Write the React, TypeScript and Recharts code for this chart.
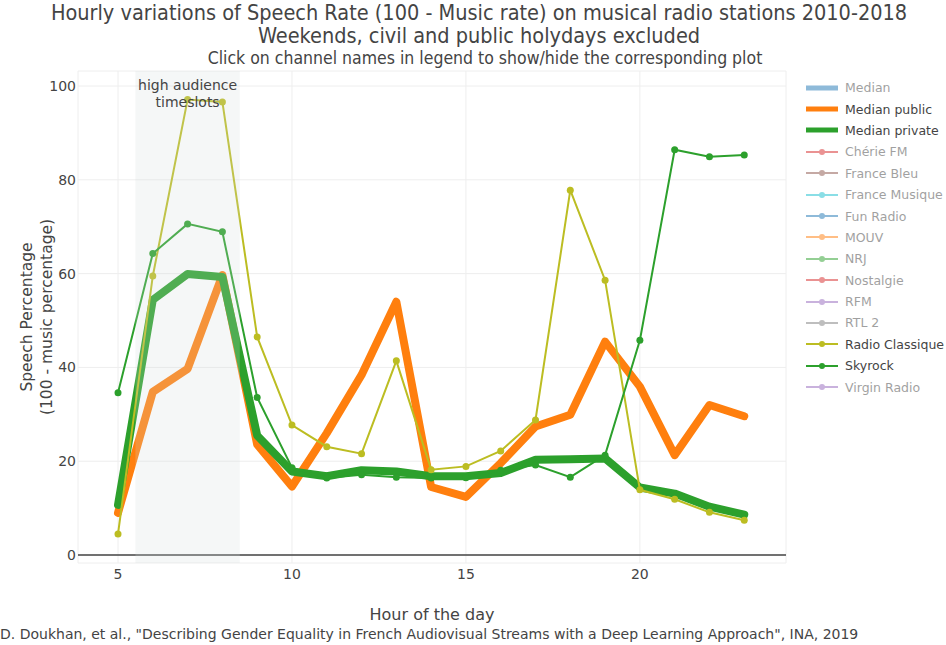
import React from 'react';
import {
  LineChart,
  Line,
  XAxis,
  YAxis,
  CartesianGrid,
  ReferenceArea,
  ReferenceLine,
  Label,
} from 'recharts';

// ── Data ──

const HOURS = [5, 6, 7, 8, 9, 10, 11, 12, 13, 14, 15, 16, 17, 18, 19, 20, 21, 22, 23];
const MEDIAN_PUBLIC = [9, 34.8, 39.7, 59.7, 23.6, 14.6, 26, 38.4, 54, 14.5, 12.4, 19.6, 27.4, 29.9, 45.5, 35.9, 21.3, 32, 29.6];
const MEDIAN_PRIVATE = [10.7, 54.4, 59.9, 59.3, 25.5, 17.8, 16.8, 18.1, 17.8, 16.8, 16.8, 17.5, 20.3, 20.4, 20.6, 14.4, 13.1, 10.3, 8.6];
const RADIO_CLASSIQUE = [4.5, 59.5, 97.1, 96.6, 46.5, 27.7, 23.1, 21.6, 41.4, 18.2, 18.9, 22.2, 28.8, 77.8, 58.6, 13.9, 11.9, 9.1, 7.4];
const SKYROCK = [34.6, 64.3, 70.6, 68.9, 33.6, 18.6, 16.4, 17.1, 16.6, 16.4, 16.5, 18.1, 19.2, 16.6, 21.3, 45.8, 86.4, 84.9, 85.3];

const X_TICKS = [5, 10, 15, 20];
const Y_TICKS = [0, 20, 40, 60, 80, 100];

// legend entries: name, colour, shown, thick median line or thin line with marker
const LEGEND_ITEMS: [string, string, boolean, boolean][] = [
  ['Median', '#1f77b4', false, true],
  ['Median public', '#ff7f0e', true, true],
  ['Median private', '#2ca02c', true, true],
  ['Chérie FM', '#d62728', false, false],
  ['France Bleu', '#8c564b', false, false],
  ['France Musique', '#17becf', false, false],
  ['Fun Radio', '#1f77b4', false, false],
  ['MOUV', '#ff7f0e', false, false],
  ['NRJ', '#2ca02c', false, false],
  ['Nostalgie', '#d62728', false, false],
  ['RFM', '#9467bd', false, false],
  ['RTL 2', '#7f7f7f', false, false],
  ['Radio Classique', '#bcbd22', true, false],
  ['Skyrock', '#2ca02c', true, false],
  ['Virgin Radio', '#9467bd', false, false],
];

const data = HOURS.map((hour, i) => ({
  hour,
  medianPublic: MEDIAN_PUBLIC[i],
  medianPrivate: MEDIAN_PRIVATE[i],
  radioClassique: RADIO_CLASSIQUE[i],
  skyrock: SKYROCK[i],
}));

const FONT = '"DejaVu Sans", Verdana, sans-serif';
const TITLE_FONT = '"DejaVu Sans Condensed", "DejaVu Sans", sans-serif';
const TEXT = '#444';

// ── Legend ──

function ChannelLegend() {
  return (
    <div style={{ position: 'absolute', left: 806, top: 77, fontFamily: FONT, fontSize: 12.5 }}>
      {LEGEND_ITEMS.map(([name, color, shown, thick]) => (
        <div key={name} style={{ display: 'flex', alignItems: 'center', height: 21.4, opacity: shown ? 1 : 0.5 }}>
          <svg width={39} height={12} style={{ flexShrink: 0 }}>
            <line x1={0} x2={32} y1={6} y2={6} stroke={color} strokeWidth={thick ? 5 : 2} />
            {!thick && <circle cx={16} cy={6} r={3} fill={color} />}
          </svg>
          <span style={{ color: TEXT, whiteSpace: 'nowrap' }}>{name}</span>
        </div>
      ))}
    </div>
  );
}

function SlotLabel({ viewBox }: any) {
  if (!viewBox) return null;
  const cx = viewBox.x + viewBox.width / 2;
  return (
    <g fontFamily={FONT} fontSize={14} fill={TEXT} textAnchor="middle">
      <text x={cx} y={viewBox.y + 19}>high audience</text>
      <text x={cx} y={viewBox.y + 36}>timeslots</text>
    </g>
  );
}

export default function App() {
  return (
    <div style={{ position: 'absolute', left: 0, top: 0, width: 946, height: 645, background: '#fff', color: TEXT }}>
      <div style={{ position: 'absolute', top: 1, left: 6, width: 946, textAlign: 'center', fontFamily: TITLE_FONT, fontSize: 21.5, lineHeight: '23px' }}>
        Hourly variations of Speech Rate (100 - Music rate) on musical radio stations 2010-2018
        <br />
        Weekends, civil and public holydays excluded
      </div>
      <div style={{ position: 'absolute', top: 48, left: 12, width: 946, textAlign: 'center', fontFamily: TITLE_FONT, fontSize: 17.5 }}>
        Click on channel names in legend to show/hide the corresponding plot
      </div>

      <LineChart width={946} height={645} data={data} margin={{ top: 71, right: 160, bottom: 52, left: 0 }}>
        <CartesianGrid stroke="#eee" strokeWidth={1} />
        <XAxis
          dataKey="hour"
          type="number"
          domain={[3.85, 24.2]}
          allowDataOverflow
          ticks={X_TICKS}
          height={30}
          axisLine={false}
          tickLine={false}
          tickSize={0}
          tickMargin={6}
          tick={{ fontSize: 14, fill: TEXT, fontFamily: FONT }}
        />
        <YAxis
          type="number"
          domain={[-1.7, 103.2]}
          allowDataOverflow
          ticks={Y_TICKS}
          width={78}
          axisLine={false}
          tickLine={false}
          tickSize={0}
          tickMargin={2}
          tick={{ fontSize: 14, fill: TEXT, fontFamily: FONT }}
        />
        <ReferenceLine y={0} stroke={TEXT} strokeWidth={1.5} />
        <Line
          dataKey="medianPublic"
          stroke="#ff7f0e"
          strokeWidth={8}
          strokeLinejoin="round"
          strokeLinecap="round"
          dot={false}
          isAnimationActive={false}
        />
        <Line
          dataKey="medianPrivate"
          stroke="#2ca02c"
          strokeWidth={8}
          strokeLinejoin="round"
          strokeLinecap="round"
          dot={false}
          isAnimationActive={false}
        />
        <Line
          dataKey="radioClassique"
          stroke="#bcbd22"
          strokeWidth={2}
          dot={{ r: 3.5, fill: '#bcbd22', stroke: 'none' }}
          isAnimationActive={false}
        />
        <Line
          dataKey="skyrock"
          stroke="#2ca02c"
          strokeWidth={2}
          dot={{ r: 3.5, fill: '#2ca02c', stroke: 'none' }}
          isAnimationActive={false}
        />
        <ReferenceArea x1={5.5} x2={8.5} fill="#d3dcdc" fillOpacity={0.22} stroke="none" zIndex={1000}>
          <Label content={<SlotLabel />} />
        </ReferenceArea>
      </LineChart>

      <ChannelLegend />

      <div
        style={{
          position: 'absolute',
          left: 37,
          top: 317,
          transform: 'translate(-50%, -50%) rotate(-90deg)',
          fontFamily: FONT,
          fontSize: 15.5,
          lineHeight: '20px',
          textAlign: 'center',
          whiteSpace: 'nowrap',
        }}
      >
        Speech Percentage
        <br />
        (100 - music percentage)
      </div>
      <div style={{ position: 'absolute', left: 78, width: 708, top: 605, textAlign: 'center', fontFamily: FONT, fontSize: 16 }}>
        Hour of the day
      </div>
      <div style={{ position: 'absolute', left: 0, top: 625, fontFamily: FONT, fontSize: 14, lineHeight: '18px', whiteSpace: 'nowrap' }}>
        D. Doukhan, et al., "Describing Gender Equality in French Audiovisual Streams with a Deep Learning Approach", INA, 2019
      </div>
    </div>
  );
}
